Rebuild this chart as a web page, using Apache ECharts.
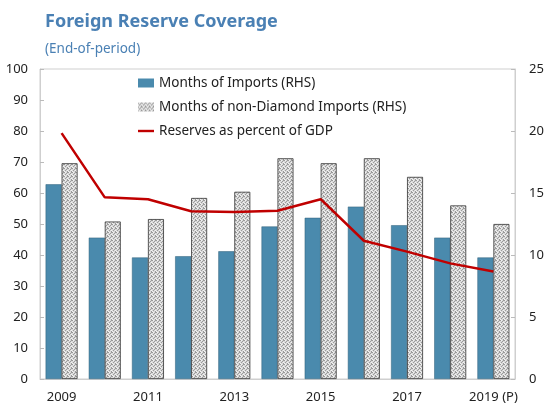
<!DOCTYPE html>
<html>
<head>
<meta charset="utf-8">
<script src="https://cdn.jsdelivr.net/npm/echarts@6/dist/echarts.min.js"></script>
<style>
  html, body { margin: 0; padding: 0; background: #fff; }
  #chart { width: 549px; height: 408px; }
</style>
</head>
<body>
<div id="chart"></div>
<script>
// categories and values
const years = ['2009', '2010', '2011', '2012', '2013', '2014', '2015', '2016', '2017', '2018', '2019 (P)'];
const monthsImports = [15.7, 11.4, 9.8, 9.9, 10.3, 12.3, 13.0, 13.9, 12.4, 11.4, 9.8];
const monthsNonDiamond = [17.4, 12.7, 12.9, 14.6, 15.1, 17.8, 17.4, 17.8, 16.3, 14.0, 12.5];
const reservesGdp = [79.3, 58.6, 58.0, 54.1, 53.9, 54.3, 58.0, 44.6, 41.1, 37.3, 34.7];

// small dotted texture for the non-diamond bars
function makeDots() {
  const c = document.createElement('canvas');
  c.width = 4; c.height = 4;
  const ctx = c.getContext('2d');
  ctx.fillStyle = '#d9d9d9';
  ctx.fillRect(0, 0, 4, 4);
  ctx.fillStyle = '#9a9a9a';
  [[0, 0], [2, 1], [1, 2], [3, 3], [3, 0]].forEach(function (p) {
    ctx.fillRect(p[0], p[1], 1, 1);
  });
  ctx.fillStyle = '#f2f2f2';
  [[1, 0], [3, 2], [0, 3]].forEach(function (p) {
    ctx.fillRect(p[0], p[1], 1, 1);
  });
  return c;
}

const chart = echarts.init(document.getElementById('chart'));
const txt = { color: '#222', fontSize: 13, fontFamily: 'Noto Sans' };
const dots = makeDots();

chart.setOption({
  animation: false,
  title: [{
    text: 'Foreign Reserve Coverage',
    left: 40, top: 8,
    textStyle: { color: '#4a80b4', fontSize: 18, fontWeight: 'bold', fontFamily: 'Noto Sans' }
  }, {
    text: '(End-of-period)',
    left: 40, top: 37,
    textStyle: { color: '#4a80b4', fontSize: 13.5, fontWeight: 'normal', fontFamily: 'Noto Sans' }
  }],
  legend: {
    orient: 'vertical',
    left: 138, top: 76,
    padding: 0,
    itemWidth: 16, itemHeight: 9,
    itemGap: 10,
    textStyle: { color: '#222', fontSize: 13.5, fontFamily: 'Noto Sans' },
    data: [
      { name: 'Months of Imports (RHS)', icon: 'rect', itemStyle: { borderWidth: 0 } },
      { name: 'Months of non-Diamond Imports (RHS)', icon: 'rect', itemStyle: { borderWidth: 0 } },
      { name: 'Reserves as percent of GDP', icon: 'path://M0,0 L20,0 L20,3 L0,3 Z', itemStyle: { color: '#c00000', borderWidth: 0 } }
    ]
  },
  grid: {
    left: 40, right: 34, top: 69, bottom: 29,
    show: true, borderColor: '#cfcfcf', borderWidth: 1
  },
  xAxis: {
    type: 'category',
    data: years,
    axisLine: { lineStyle: { color: '#cfcfcf' } },
    axisTick: { inside: true, length: 4, lineStyle: { color: '#bbb' } },
    axisLabel: Object.assign({ interval: 1, margin: 12 }, txt)
  },
  yAxis: [{
    type: 'value', min: 0, max: 100, interval: 10,
    axisLine: { show: true, lineStyle: { color: '#cfcfcf' } },
    axisTick: { show: true, inside: true, length: 4, lineStyle: { color: '#bbb' } },
    splitLine: { show: false },
    axisLabel: Object.assign({ margin: 12 }, txt)
  }, {
    type: 'value', min: 0, max: 25, interval: 5,
    axisLine: { show: true, lineStyle: { color: '#cfcfcf' } },
    axisTick: { show: true, inside: true, length: 4, lineStyle: { color: '#bbb' } },
    splitLine: { show: false },
    axisLabel: Object.assign({ margin: 14 }, txt)
  }],
  series: [{
    name: 'Months of Imports (RHS)',
    type: 'bar',
    yAxisIndex: 1,
    barGap: '0%',
    barCategoryGap: '26%',
    itemStyle: { color: '#4a8aad', borderColor: '#2f5f78', borderWidth: 0.5 },
    data: monthsImports
  }, {
    name: 'Months of non-Diamond Imports (RHS)',
    type: 'bar',
    yAxisIndex: 1,
    itemStyle: { color: { image: dots, repeat: 'repeat' }, borderColor: '#333', borderWidth: 0.8 },
    data: monthsNonDiamond
  }, {
    name: 'Reserves as percent of GDP',
    type: 'line',
    yAxisIndex: 0,
    symbol: 'none',
    lineStyle: { color: '#c00000', width: 2.5 },
    itemStyle: { color: '#c00000' },
    z: 5,
    data: reservesGdp
  }]
});
</script>
</body>
</html>
